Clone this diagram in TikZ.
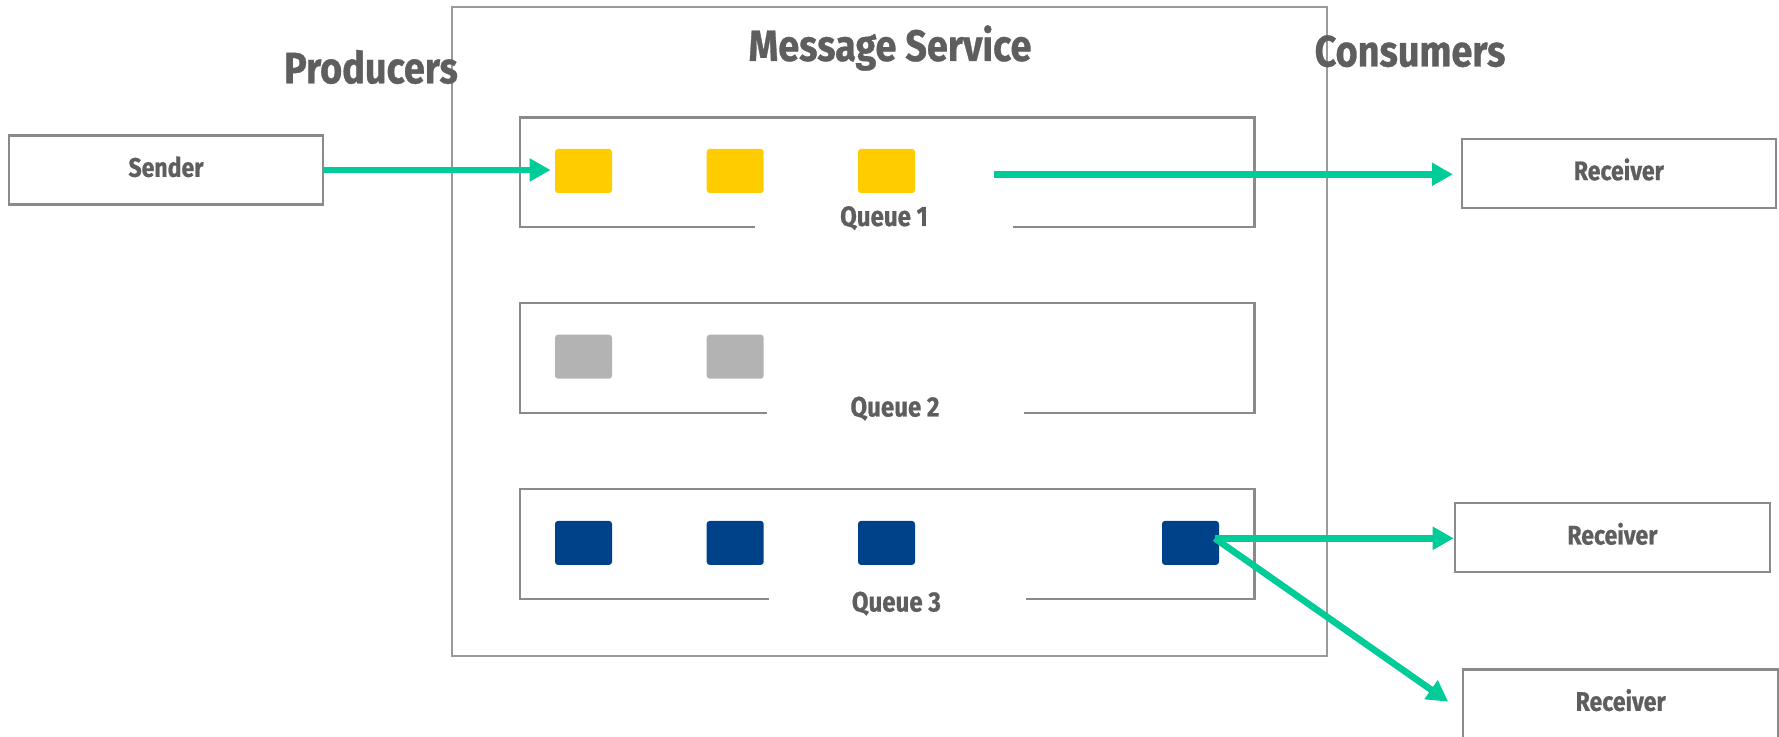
\documentclass[tikz,border=0pt]{standalone}
\usepackage{fontspec}
\newfontfamily\cf{Fira Sans}[FakeStretch=0.86,FakeBold=0.7]
\usetikzlibrary{arrows.meta,calc}
\definecolor{txt}{HTML}{5E5E5E}
\definecolor{bord}{HTML}{8A8A8A}
\definecolor{obord}{HTML}{9A9A9A}
\definecolor{grn}{HTML}{00CC99}
\definecolor{yel}{HTML}{FFCC00}
\definecolor{gry}{HTML}{B3B3B3}
\definecolor{blu}{HTML}{004289}
\tikzset{
  box/.style={draw=bord, line width=1.1pt, fill=white, minimum height=34.5pt, text=txt, font=\cf\bfseries\fontsize{13.4}{15}\selectfont, inner sep=0pt, text height=9.2pt, text depth=2.4pt},
  outerbox/.style={draw=obord, line width=1pt, minimum width=437.7pt, minimum height=324.2pt, inner sep=0pt},
  qbox/.style={minimum width=366.8pt, minimum height=54.5pt, inner sep=0pt},
  qline/.style={draw=bord, line width=1.1pt},
  qlabel/.style={anchor=base, text=txt, font=\cf\bfseries\fontsize{14}{16}\selectfont, inner sep=0pt},
  title/.style={anchor=base, text=txt, font=\cf\bfseries\fontsize{22}{25}\selectfont, inner sep=0pt},
  msg/.style={rounded corners=1.5pt, minimum width=28.5pt, minimum height=22pt, inner sep=0pt},
  flow/.style={draw=grn, line width=3.3pt, -{Triangle[length=10.5pt,width=11pt]}}
}
\begin{document}
\begin{tikzpicture}[x=0.5pt,y=-0.5pt]
\useasboundingbox (0,0) rectangle (1779,737);
% outer message service box
\node[outerbox] (ms) at (889.3,331.5) {};
\node[title] (tms) at (890,61) {Message Service};
\node[title] (tprod) at (371,83.3) {Producers};
\node[title] (tcons) at (1410,66.5) {Consumers};
% sender and receivers
\node[box, minimum width=157pt] (sender) at (166,170) {Sender};
\node[box, minimum width=156.85pt] (r1) at (1618.85,173.3) {Receiver};
\node[box, minimum width=157.6pt] (r2) at (1612.4,537.7) {Receiver};
\node[box, minimum width=157.35pt] (r3) at (1620.65,704) {Receiver};
% queues
\node[qbox] (q1) at (887.2,172.5) {};
\node[qbox, minimum height=54.85pt] (q2) at (887.2,358.15) {};
\node[qbox, minimum height=54.85pt] (q3) at (887.2,544.15) {};
\draw[qline] ([xshift=117.3pt]q1.south west) -- (q1.south west) -- (q1.north west) -- (q1.north east) -- (q1.south east) -- ([xshift=-120.5pt]q1.south east);
\draw[qline] ([xshift=123.3pt]q2.south west) -- (q2.south west) -- (q2.north west) -- (q2.north east) -- (q2.south east) -- ([xshift=-115pt]q2.south east);
\draw[qline] ([xshift=124.3pt]q3.south west) -- (q3.south west) -- (q3.north west) -- (q3.north east) -- (q3.south east) -- ([xshift=-114.2pt]q3.south east);
\node[qlabel] (l1) at (884,226) {Queue 1};
\node[qlabel] (l2) at (895,416.5) {Queue 2};
\node[qlabel] (l3) at (896.4,611.5) {Queue 3};
% messages
\node[msg, fill=yel] (y1) at (583.5,171) {};
\node[msg, fill=yel] (y2) at (735.2,171) {};
\node[msg, fill=yel] (y3) at (886.5,171) {};
\node[msg, fill=gry] (g1) at (583.5,356.7) {};
\node[msg, fill=gry] (g2) at (735.2,356.7) {};
\node[msg, fill=blu] (b1) at (583.5,542.9) {};
\node[msg, fill=blu] (b2) at (735.2,542.9) {};
\node[msg, fill=blu] (b3) at (886.5,542.9) {};
\node[msg, fill=blu] (b4) at (1190.5,542.9) {};
% flows
\coordinate (s2) at (993.9,174.3);
\coordinate (s3) at ([shift={(-2.3pt,2.3pt)}]b4.east);
\coordinate (e4) at ($(r3.west)+(-14,-2.3)$);
\draw[flow, shorten >=2pt] (sender.east) -- (sender.east -| y1.west);
\draw[flow, shorten >=4pt] (s2) -- (s2 -| r1.west);
\draw[flow] (s3) -- (s3 -| r2.west);
\draw[flow] (s3) -- (e4);
\end{tikzpicture}
\end{document}
